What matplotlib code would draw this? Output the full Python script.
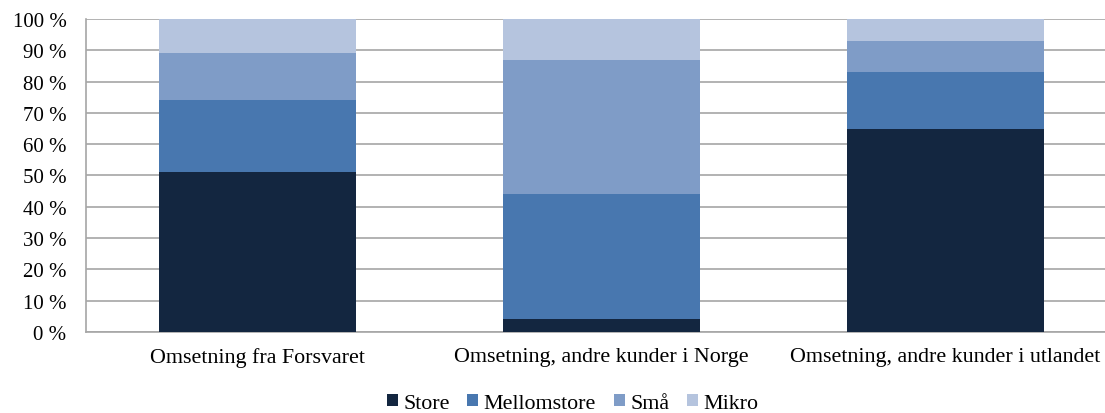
import numpy as np
import matplotlib
matplotlib.use("Agg")
import matplotlib.pyplot as plt

categories = ["Omsetning fra Forsvaret",
              "Omsetning, andre kunder i Norge",
              "Omsetning, andre kunder i utlandet"]
store = [51, 4, 65]
mellomstore = [23, 40, 18]
smaa = [15, 43, 10]
mikro = [11, 13, 7]
series_names = ["Store", "Mellomstore", "Små", "Mikro"]
yticks = [0, 10, 20, 30, 40, 50, 60, 70, 80, 90, 100]

colors = ["#132640", "#4877AF", "#7F9CC7", "#B5C4DE"]

plt.rcParams['font.family'] = ['Liberation Serif', 'DejaVu Serif']

fig = plt.figure(figsize=(11.05, 4.14), dpi=100)
ax = fig.add_axes([0.0778, 0.1957, 0.9335, 0.756])

x = np.arange(len(categories))
bottom = np.zeros(len(categories))
for name, vals, c in zip(series_names, [store, mellomstore, smaa, mikro], colors):
    ax.bar(x, vals, 0.573, bottom=bottom, color=c, label=name, zorder=3)
    bottom += np.array(vals)

ax.set_xlim(-0.5, 2.5)
ax.set_ylim(0, 100)
ax.set_yticks(yticks)
ax.set_yticklabels(["%d %%" % v for v in yticks], fontsize=15)
ax.set_xticks(x)
ax.set_xticklabels(categories, fontsize=15.8)
ax.tick_params(axis='y', length=0, pad=14)
ax.tick_params(axis='x', length=0, pad=11)
ax.grid(axis='y', color='#a6a6a6', linewidth=1.2, zorder=0)
for s in ['top', 'right']:
    ax.spines[s].set_visible(False)
for s in ['left', 'bottom']:
    ax.spines[s].set_color('#a6a6a6')
    ax.spines[s].set_linewidth(1.2)

fig.legend(loc='center', bbox_to_anchor=(0.518, 9.5 / 414), ncol=4, frameon=False,
           fontsize=15.8, handlelength=0.5, handleheight=0.5, handletextpad=0.25,
           columnspacing=0.8, borderpad=0)

fig.savefig("out.png", dpi=100)
